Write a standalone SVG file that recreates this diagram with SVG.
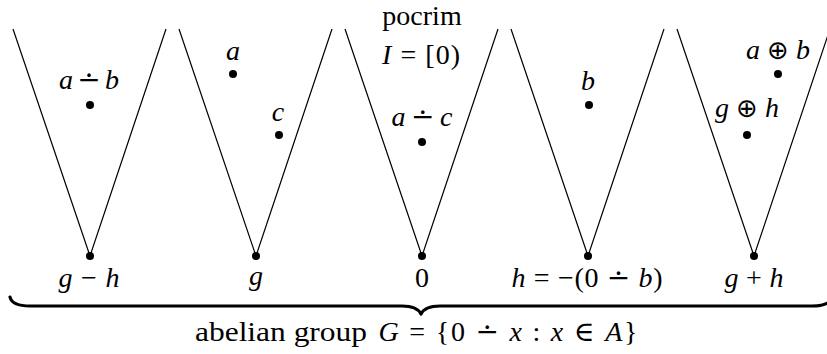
<svg xmlns="http://www.w3.org/2000/svg" width="827" height="354" viewBox="0 0 827 354">
<style>
.cone{fill:none;stroke:#000;stroke-width:1.2}
.dot{fill:#000}
text{font-family:'Liberation Serif','Times New Roman','DejaVu Serif',serif;font-size:28px;fill:#000;text-anchor:middle}
.i{font-style:italic}
.op{font-size:26px;font-family:'DejaVu Sans',sans-serif;font-weight:normal}
.brace{fill:none;stroke:#000;stroke-width:3.2;stroke-linejoin:round;stroke-linecap:round}
</style>
<rect width="827" height="354" fill="#fff"/>
<g id="connectors">
<g id="cone1-edges"><polyline class="cone" points="13,29 90,256 166,29"/></g>
<g id="cone2-edges"><polyline class="cone" points="179,29 256,256 332,29"/></g>
<g id="cone3-edges"><polyline class="cone" points="345,29 422,256 498,29"/></g>
<g id="cone4-edges"><polyline class="cone" points="511,29 588,256 664,29"/></g>
<g id="cone5-edges"><polyline class="cone" points="677,29 754,256 830,29"/></g>
</g>
<g id="cone1">
<circle class="dot" cx="90" cy="105" r="4"/>
<text x="89" y="89" textLength="60"><tspan class="i">a</tspan> ∸ <tspan class="i">b</tspan></text>
<circle class="dot" cx="90" cy="256" r="4"/>
<text x="89" y="287" textLength="61"><tspan class="i">g</tspan> − <tspan class="i">h</tspan></text>
</g>
<g id="cone2">
<circle class="dot" cx="233" cy="74" r="4"/>
<text x="233" y="60" class="i">a</text>
<circle class="dot" cx="279" cy="135" r="4"/>
<text x="278" y="121" class="i">c</text>
<circle class="dot" cx="256" cy="256" r="4"/>
<text x="256" y="285" class="i">g</text>
</g>
<g id="cone3">
<text x="422" y="25">pocrim</text>
<text x="421" y="64" textLength="78"><tspan class="i">I</tspan> = [0)</text>
<circle class="dot" cx="422" cy="142" r="4"/>
<text x="422" y="126" textLength="61"><tspan class="i">a</tspan> ∸ <tspan class="i">c</tspan></text>
<circle class="dot" cx="422" cy="256" r="4"/>
<text x="422" y="287">0</text>
</g>
<g id="cone4">
<circle class="dot" cx="589" cy="105" r="4"/>
<text x="588" y="90" class="i">b</text>
<circle class="dot" cx="588" cy="256" r="4"/>
<text x="587" y="287" textLength="151"><tspan class="i">h</tspan> = −(0 ∸ <tspan class="i">b</tspan>)</text>
</g>
<g id="cone5">
<circle class="dot" cx="778" cy="74" r="4"/>
<text x="778" y="59"><tspan class="i">a</tspan> <tspan class="op">⊕</tspan> <tspan class="i">b</tspan></text>
<circle class="dot" cx="747" cy="135" r="4"/>
<text x="747" y="117"><tspan class="i">g</tspan> <tspan class="op">⊕</tspan> <tspan class="i">h</tspan></text>
<circle class="dot" cx="754" cy="256" r="4"/>
<text x="754" y="287" textLength="59"><tspan class="i">g</tspan> + <tspan class="i">h</tspan></text>
</g>
<g id="brace">
<path class="brace" d="M10,297 Q12,306 30,306 L402,306 Q417,306 421,314 Q425,306 440,306 L812,306 Q830,306 832,297"/>
<text x="281" y="341" textLength="172" lengthAdjust="spacingAndGlyphs">abelian group</text>
<text x="508" y="341" textLength="259"><tspan class="i">G</tspan> = {0 ∸ <tspan class="i">x</tspan> : <tspan class="i">x</tspan> ∈ <tspan class="i">A</tspan>}</text>
</g>
</svg>
